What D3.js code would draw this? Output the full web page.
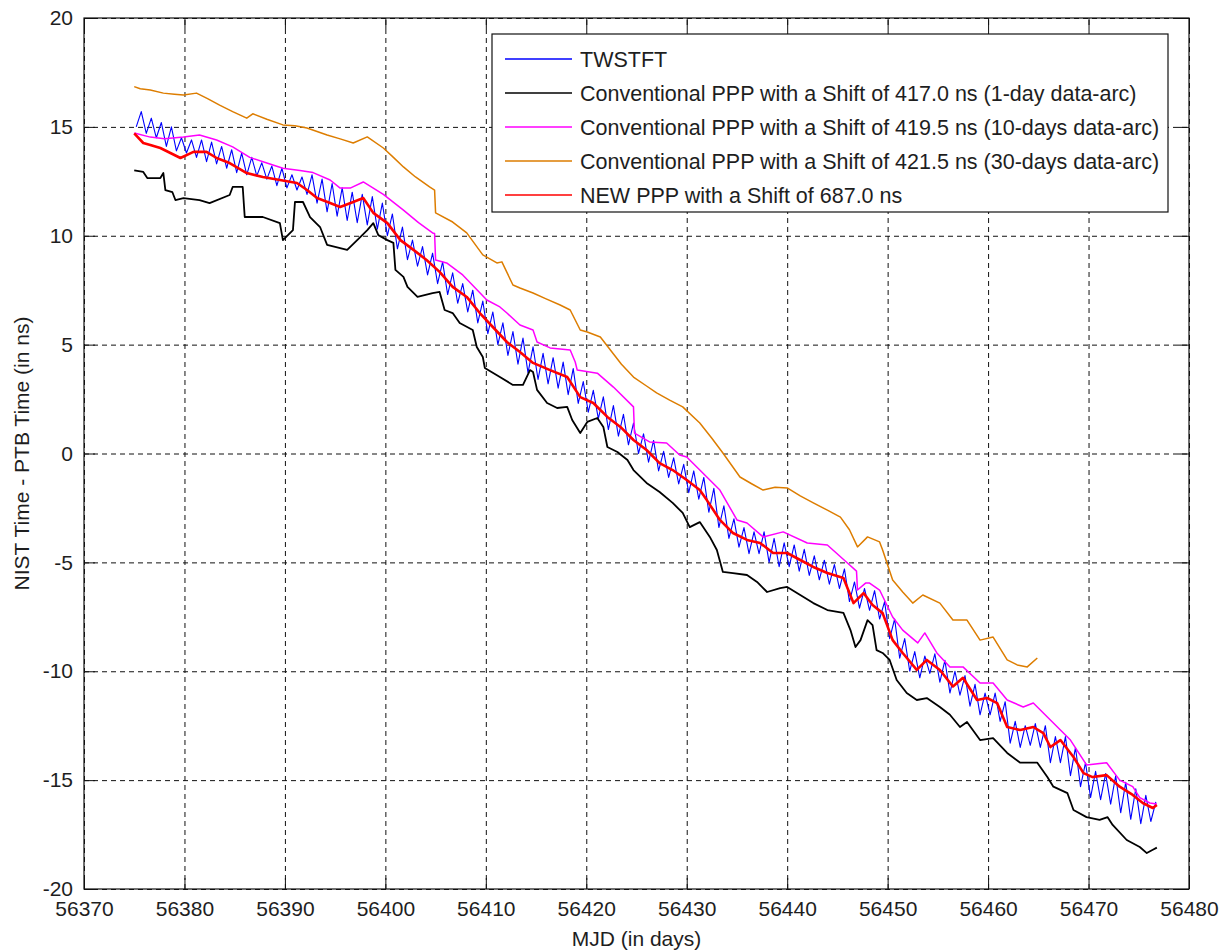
<!DOCTYPE html>
<html>
<head>
<meta charset="utf-8">
<script src="https://cdn.jsdelivr.net/npm/d3@7"></script>
<style>
  html, body { margin: 0; padding: 0; background: #fff; }
  svg text { font-family: "Liberation Sans", Arial, sans-serif; fill: #1e1e1e; }
</style>
</head>
<body>
<svg id="chart" width="1227" height="950"></svg>
<script>
// Axis ticks
const xTicks = [56370, 56380, 56390, 56400, 56410, 56420, 56430, 56440, 56450, 56460, 56470, 56480];
const yTicks = [-20, -15, -10, -5, 0, 5, 10, 15, 20];

// TWSTFT: twice-daily samples (daily low, daily high) starting at MJD 56375.2
const twstftStart = 56375.2;
const twstftStep = 0.5;
const twstftValues = [
  15.0, 15.7, 14.7, 15.4, 14.5, 15.2, 14.1, 15.0, 13.9, 14.5,
  13.8, 14.4, 13.6, 14.4, 13.4, 14.3, 13.3, 14.1, 13.1, 13.95,
  12.9, 13.8, 12.8, 13.6, 12.75, 13.35, 12.6, 13.2, 12.3, 13.1,
  12.2, 12.8, 12.1, 12.7, 11.9, 12.8, 11.5, 12.6, 11.1, 12.4,
  10.9, 12.2, 10.7, 12.0, 10.6, 11.9, 10.5, 11.8, 10.3, 11.5,
  10.0, 11.0, 9.4, 10.4, 8.9, 9.8, 8.6, 9.5, 8.2, 9.2,
  7.8, 8.8, 7.3, 8.3, 6.9, 7.8, 6.5, 7.5, 6.0, 7.0,
  5.5, 6.5, 5.0, 6.0, 4.5, 5.6, 4.1, 5.3, 3.7, 4.9,
  3.4, 4.6, 3.2, 4.4, 3.0, 4.2, 2.7, 3.9, 2.3, 3.3,
  1.9, 2.9, 1.6, 2.6, 1.1, 2.2, 0.8, 1.8, 0.4, 1.4,
  0.0, 0.9, -0.4, 0.6, -0.8, 0.1, -1.1, -0.2, -1.4, -0.5,
  -1.8, -0.8, -2.1, -1.1, -2.7, -1.6, -3.4, -2.4, -3.9, -3.0,
  -4.3, -3.4, -4.6, -3.6, -4.6, -3.6, -5.0, -3.9, -5.2, -4.1,
  -5.2, -4.2, -5.4, -4.4, -5.6, -4.7, -5.8, -4.9, -6.0, -5.1,
  -6.2, -5.3, -6.8, -5.9, -7.1, -6.2, -7.2, -6.3, -7.6, -6.8,
  -8.5, -7.6, -9.4, -8.5, -10.0, -9.1, -10.3, -9.3, -10.1, -9.2,
  -10.5, -9.5, -11.0, -10.0, -11.1, -10.2, -11.6, -10.6, -12.0, -11.0,
  -12.0, -11.0, -12.3, -11.4, -13.3, -12.3, -13.5, -12.5, -13.4, -12.4,
  -13.5, -12.5, -14.2, -13.0, -14.2, -13.0, -14.8, -13.5, -15.3, -14.2,
  -15.8, -14.6, -15.9, -14.7, -16.1, -14.8, -16.5, -15.1, -16.8, -15.4,
  -17.0, -15.7, -16.9, -16.0
];

// Conventional PPP, 1-day data-arc: [MJD, ns]
const ppp1day = [
  [56375.0,13.0],[56375.9,12.93],[56376.3,12.65],[56377.6,12.65],[56377.9,12.88],[56378.1,12.1],
  [56378.8,12.0],[56379.1,11.64],[56379.9,11.73],[56381.5,11.64],[56382.5,11.5],[56384.5,11.87],
  [56384.8,12.24],[56385.8,12.24],[56386.0,10.86],[56387.8,10.86],[56389.5,10.58],[56389.8,9.8],
  [56390.8,10.26],[56391.0,11.55],[56391.8,11.55],[56392.5,10.86],[56393.5,10.4],[56394.2,9.58],
  [56396.2,9.35],[56397.5,9.94],[56398.2,10.26],[56398.8,10.58],[56399.3,10.03],[56400.2,9.8],
  [56400.8,9.67],[56401.0,8.43],[56401.8,8.11],[56402.2,7.65],[56403.2,7.19],[56404.7,7.37],
  [56405.4,7.42],[56405.9,6.59],[56406.7,6.45],[56407.4,5.99],[56408.7,5.67],[56409.1,4.89],
  [56409.7,4.43],[56409.9,3.93],[56411.4,3.51],[56412.7,3.15],[56413.7,3.15],[56414.4,3.83],
  [56414.7,3.74],[56415.1,2.92],[56416.1,2.32],[56417.1,2.09],[56418.1,2.14],[56418.6,1.54],
  [56419.4,0.94],[56420.1,1.45],[56421.1,1.63],[56421.7,1.22],[56422.1,0.3],[56423.1,0.07],
  [56424.1,-0.3],[56424.7,-0.76],[56426.0,-1.35],[56427.3,-1.77],[56428.6,-2.27],[56429.6,-2.73],
  [56430.3,-3.38],[56431.3,-3.15],[56432.3,-3.83],[56433.0,-4.43],[56433.6,-5.44],[56434.6,-5.49],
  [56436.0,-5.58],[56437.0,-5.9],[56438.0,-6.36],[56439.3,-6.18],[56440.0,-6.13],[56441.3,-6.5],
  [56442.6,-6.87],[56444.0,-7.19],[56445.6,-7.32],[56446.3,-8.11],[56446.8,-8.89],[56447.3,-8.57],
  [56448.0,-7.65],[56448.5,-7.88],[56448.9,-9.03],[56449.5,-9.16],[56450.2,-9.48],[56450.9,-10.4],
  [56451.9,-11.0],[56452.9,-11.32],[56453.9,-11.23],[56455.2,-11.64],[56456.2,-12.0],[56457.2,-12.56],
  [56457.9,-12.33],[56459.2,-13.16],[56460.5,-13.07],[56461.9,-13.75],[56463.2,-14.2],[56464.9,-14.2],
  [56465.9,-14.86],[56466.5,-15.3],[56467.9,-15.6],[56468.5,-16.37],[56469.8,-16.7],[56471.1,-16.83],
  [56471.9,-16.7],[56472.4,-17.06],[56473.8,-17.75],[56475.1,-18.07],[56475.8,-18.35],[56476.4,-18.2],
  [56476.8,-18.1]
];

// Conventional PPP, 10-days data-arc: [MJD, ns]
const ppp10day = [
  [56375.0,14.72],[56376.6,14.53],[56378.0,14.45],[56379.9,14.53],[56381.5,14.63],[56383.2,14.4],
  [56384.8,14.08],[56386.5,13.6],[56388.2,13.34],[56389.8,13.1],[56391.5,13.0],[56392.8,12.9],
  [56394.5,12.56],[56395.5,12.19],[56396.5,12.19],[56397.8,12.47],[56399.8,11.9],[56401.8,11.18],
  [56403.3,10.6],[56404.7,10.13],[56404.9,10.1],[56405.0,8.89],[56406.1,8.75],[56407.7,8.2],
  [56410.1,7.05],[56411.4,6.73],[56412.1,6.45],[56413.4,5.9],[56414.7,5.67],[56415.1,5.12],
  [56416.4,4.85],[56418.4,4.75],[56418.9,4.2],[56419.1,3.83],[56421.1,3.69],[56422.7,3.05],
  [56424.7,2.14],[56424.8,0.94],[56426.3,0.53],[56428.0,0.48],[56429.3,-0.07],[56430.0,-0.16],
  [56431.3,-0.76],[56433.3,-1.68],[56435.0,-3.05],[56436.0,-3.19],[56437.6,-3.83],[56439.6,-3.6],
  [56442.0,-4.11],[56444.0,-4.2],[56446.0,-5.03],[56446.9,-5.4],[56447.0,-6.27],[56447.8,-5.95],
  [56448.2,-5.95],[56449.2,-6.27],[56450.5,-7.51],[56451.5,-8.11],[56453.0,-8.7],[56453.7,-8.24],
  [56454.9,-9.16],[56456.2,-9.8],[56457.5,-9.8],[56459.2,-10.54],[56460.5,-10.54],[56461.9,-11.32],
  [56463.5,-11.64],[56464.5,-11.46],[56465.9,-12.1],[56467.2,-12.7],[56468.2,-13.16],[56469.8,-14.3],
  [56471.8,-14.2],[56473.1,-15.0],[56474.4,-15.3],[56475.1,-15.8],[56476.1,-16.05],[56476.8,-16.1]
];

// Conventional PPP, 30-days data-arc: [MJD, ns]
const ppp30day = [
  [56375.0,16.85],[56375.6,16.75],[56376.6,16.69],[56377.9,16.55],[56379.0,16.5],[56379.9,16.46],
  [56381.2,16.55],[56382.3,16.3],[56383.5,16.0],[56384.8,15.7],[56386.2,15.4],[56386.8,15.6],
  [56388.2,15.35],[56389.8,15.09],[56391.0,15.05],[56392.2,14.95],[56394.2,14.63],[56395.5,14.45],
  [56396.8,14.26],[56398.2,14.54],[56399.8,14.03],[56400.8,13.6],[56401.8,13.16],[56403.0,12.7],
  [56404.4,12.24],[56404.9,12.1],[56405.0,11.05],[56406.7,10.63],[56408.1,10.13],[56409.7,9.12],
  [56411.1,8.75],[56411.6,8.8],[56412.7,7.74],[56413.4,7.6],[56414.7,7.37],[56416.0,7.1],
  [56417.4,6.82],[56418.4,6.59],[56419.4,5.67],[56420.1,5.58],[56421.4,5.35],[56422.4,4.75],
  [56423.5,4.1],[56424.7,3.51],[56426.0,3.1],[56427.0,2.78],[56428.3,2.45],[56429.6,2.14],
  [56431.3,1.40],[56432.5,0.7],[56433.6,0.02],[56435.3,-1.08],[56436.5,-1.4],[56437.6,-1.68],
  [56438.8,-1.55],[56440.0,-1.58],[56441.3,-1.95],[56442.6,-2.27],[56444.0,-2.6],[56445.3,-2.92],
  [56446.2,-3.5],[56447.0,-4.29],[56448.0,-3.83],[56449.2,-4.06],[56449.5,-4.43],[56450.5,-5.81],
  [56451.5,-6.36],[56452.5,-6.87],[56453.5,-6.50],[56455.2,-6.87],[56456.5,-7.65],[56457.9,-7.65],
  [56459.2,-8.57],[56460.5,-8.43],[56461.9,-9.48],[56462.9,-9.71],[56463.9,-9.8],[56464.9,-9.39]
];

// NEW PPP: [MJD, ns]
const pppNew = [
  [56375.0,14.7],[56375.9,14.26],[56376.6,14.17],[56377.6,14.03],[56378.6,13.8],[56379.6,13.57],
  [56380.9,13.85],[56382.2,13.85],[56383.2,13.57],[56384.5,13.34],[56386.2,12.88],[56387.8,12.7],
  [56389.5,12.56],[56391.2,12.42],[56392.2,12.1],[56393.2,11.73],[56394.5,11.5],[56395.5,11.32],
  [56396.8,11.55],[56397.8,11.73],[56398.8,11.05],[56400.2,10.58],[56401.5,9.8],[56402.8,9.35],
  [56404.1,8.89],[56405.4,8.34],[56406.7,7.65],[56408.1,7.19],[56409.4,6.45],[56410.7,5.81],
  [56412.1,5.12],[56413.4,4.66],[56414.7,4.16],[56416.4,3.83],[56418.1,3.51],[56419.4,2.59],
  [56420.7,2.32],[56422.1,1.68],[56423.4,1.22],[56424.7,0.62],[56426.0,0.16],[56427.3,-0.44],
  [56428.6,-0.76],[56430.0,-1.22],[56431.3,-1.68],[56432.0,-2.14],[56433.3,-3.05],[56434.6,-3.65],
  [56436.0,-3.97],[56437.3,-4.11],[56438.6,-4.57],[56440.0,-4.57],[56441.3,-4.89],[56442.6,-5.21],
  [56444.0,-5.49],[56445.6,-5.72],[56446.6,-6.87],[56447.6,-6.41],[56448.5,-6.96],[56449.5,-7.33],
  [56450.5,-8.57],[56451.5,-9.16],[56452.9,-9.94],[56453.9,-9.48],[56455.2,-9.94],[56456.5,-10.7],
  [56457.5,-10.3],[56458.9,-11.32],[56459.9,-11.23],[56460.9,-11.46],[56461.9,-12.56],[56463.2,-12.7],
  [56464.5,-12.56],[56465.5,-12.84],[56466.2,-13.48],[56467.2,-13.16],[56468.5,-13.94],[56469.5,-14.68],
  [56470.4,-14.86],[56471.8,-14.77],[56473.1,-15.3],[56474.4,-15.68],[56475.4,-16.05],[56476.4,-16.28],
  [56476.8,-16.14]
];

const legendLabels = [
  "TWSTFT",
  "Conventional PPP with a Shift of 417.0 ns (1-day data-arc)",
  "Conventional PPP with a Shift of 419.5 ns (10-days data-arc)",
  "Conventional PPP with a Shift of 421.5 ns (30-days data-arc)",
  "NEW PPP with a Shift of 687.0 ns"
];

// ---- layout & scales ----
const plot = { left: 84, top: 18, right: 1189, bottom: 889 };
const x = d3.scaleLinear().domain([56370, 56480]).range([plot.left, plot.right]);
const y = d3.scaleLinear().domain([-20, 20]).range([plot.bottom, plot.top]);
const innerH = plot.bottom - plot.top;
const innerW = plot.right - plot.left;
const tickLen = 11;
const fontPx = 21;
// integer labels with a plain hyphen for negatives
const intLabel = d => String(Math.round(d));

const svg = d3.select("#chart");
svg.append("rect").attr("width", 1227).attr("height", 950).attr("fill", "#fff");

// dashed grid
const gridX = svg.append("g")
  .attr("transform", `translate(0,${plot.bottom})`)
  .call(d3.axisBottom(x).tickValues(xTicks).tickSize(-innerH).tickFormat(""));
const gridY = svg.append("g")
  .attr("transform", `translate(${plot.left},0)`)
  .call(d3.axisLeft(y).tickValues(yTicks).tickSize(-innerW).tickFormat(""));
[gridX, gridY].forEach(g => {
  g.select(".domain").remove();
  g.selectAll("line").attr("stroke", "#111").attr("stroke-width", 1).attr("stroke-dasharray", "5,4");
});

// series
const line = d3.line().x(d => x(d[0])).y(d => y(d[1]));
const twstft = twstftValues.map((v, i) => [twstftStart + i * twstftStep, v]);

const series = [
  { data: twstft,   color: "#0000ff", width: 1.1 },
  { data: ppp1day,  color: "#000000", width: 1.8 },
  { data: ppp10day, color: "#ff00ff", width: 1.5 },
  { data: ppp30day, color: "#dd7d00", width: 1.5 },
  { data: pppNew,   color: "#ff0000", width: 2.6 }
];
const plotG = svg.append("g");
series.forEach(s => {
  plotG.append("path")
    .datum(s.data)
    .attr("fill", "none")
    .attr("stroke", s.color)
    .attr("stroke-width", s.width)
    .attr("stroke-linejoin", "round")
    .attr("d", line);
});

// axes with inward ticks on all four sides
function styleAxis(g) {
  g.select(".domain").remove();
  g.selectAll("line").attr("stroke", "#111").attr("stroke-width", 1);
  g.selectAll("text").attr("font-size", fontPx).attr("fill", "#1e1e1e")
    .style("font-family", "'Liberation Sans', Arial, sans-serif");
}
svg.append("g").attr("transform", `translate(0,${plot.bottom})`)
  .call(d3.axisBottom(x).tickValues(xTicks).tickSizeInner(-tickLen).tickSizeOuter(0).tickPadding(12).tickFormat(intLabel))
  .call(styleAxis);
svg.append("g").attr("transform", `translate(0,${plot.top})`)
  .call(d3.axisTop(x).tickValues(xTicks).tickSizeInner(-tickLen).tickSizeOuter(0).tickFormat(""))
  .call(styleAxis);
svg.append("g").attr("transform", `translate(${plot.left},0)`)
  .call(d3.axisLeft(y).tickValues(yTicks).tickSizeInner(-tickLen).tickSizeOuter(0).tickPadding(11).tickFormat(intLabel))
  .call(styleAxis);
svg.append("g").attr("transform", `translate(${plot.right},0)`)
  .call(d3.axisRight(y).tickValues(yTicks).tickSizeInner(-tickLen).tickSizeOuter(0).tickFormat(""))
  .call(styleAxis);

// frame
svg.append("rect")
  .attr("x", plot.left).attr("y", plot.top)
  .attr("width", innerW).attr("height", innerH)
  .attr("fill", "none").attr("stroke", "#111").attr("stroke-width", 1.2);

// axis titles
svg.append("text")
  .attr("x", (plot.left + plot.right) / 2).attr("y", 946)
  .attr("text-anchor", "middle").attr("font-size", fontPx)
  .text("MJD (in days)");
svg.append("text")
  .attr("transform", `translate(29,${(plot.top + plot.bottom) / 2}) rotate(-90)`)
  .attr("text-anchor", "middle").attr("font-size", fontPx)
  .text("NIST Time - PTB Time (in ns)");

// legend
const legend = { x: 492, y: 34, w: 676, h: 178, rowY0: 59, rowGap: 34 };
const lg = svg.append("g");
lg.append("rect")
  .attr("x", legend.x).attr("y", legend.y).attr("width", legend.w).attr("height", legend.h)
  .attr("fill", "#fff").attr("stroke", "#111").attr("stroke-width", 1.2);
legendLabels.forEach((label, i) => {
  const ry = legend.rowY0 + i * legend.rowGap;
  lg.append("line")
    .attr("x1", legend.x + 13).attr("x2", legend.x + 80)
    .attr("y1", ry).attr("y2", ry)
    .attr("stroke", series[i].color).attr("stroke-width", 1.3);
  lg.append("text")
    .attr("x", legend.x + 88).attr("y", ry).attr("dy", "0.36em")
    .attr("font-size", 21.5)
    .text(label);
});
</script>
</body>
</html>
